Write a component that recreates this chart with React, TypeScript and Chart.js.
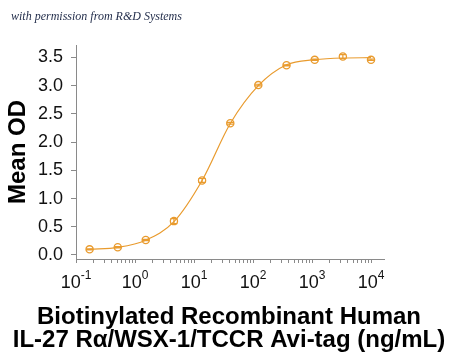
import React, { useEffect, useRef } from "react";
import { Chart, registerables } from "chart.js";
Chart.register(...registerables);

// Data
const concentrations = [0.17, 0.51, 1.52, 4.57, 13.7, 41.2, 123, 370, 1111, 3333, 10000];
const meanOD = [0.10, 0.137, 0.266, 0.60, 1.32, 2.335, 3.01, 3.36, 3.457, 3.516, 3.457];
const errorOD = [0.01, 0.01, 0.012, 0.045, 0.035, 0.015, 0.015, 0.01, 0.012, 0.035, 0.012];
const fitOD = [0.10, 0.135, 0.262, 0.59, 1.32, 2.33, 3.0, 3.37, 3.46, 3.49, 3.495];
const xExponents = [-1, 0, 1, 2, 3, 4];
const xMinorMultipliers = [2, 3, 4, 5, 6, 7, 8, 9];
const yTickValues = [0, 0.5, 1.0, 1.5, 2.0, 2.5, 3.0, 3.5];
const xTitle = ["Biotinylated Recombinant Human", "IL-27 R\u03b1/WSX-1/TCCR Avi-tag (ng/mL)"];
const yTitle = "Mean OD";
const credit = "with permission from R&D Systems";

const ORANGE = "#E99B2E";
const AXIS = "#8a8a8a";
const FONT = "'Liberation Sans', Arial, sans-serif";

export default function App() {
  const ref = useRef<HTMLCanvasElement>(null);
  useEffect(() => {
    document.body.style.margin = "0";
    const canvas = ref.current!;
    const errorBars = {
      id: "errorBars",
      afterDatasetsDraw(chart: any) {
        const { ctx } = chart;
        const xs = chart.scales.x;
        const ys = chart.scales.y;
        ctx.save();
        ctx.strokeStyle = ORANGE;
        ctx.lineWidth = 1.2;
        concentrations.forEach((c, i) => {
          const x = xs.getPixelForValue(c);
          const y1 = ys.getPixelForValue(meanOD[i] + errorOD[i]);
          const y2 = ys.getPixelForValue(meanOD[i] - errorOD[i]);
          ctx.beginPath();
          ctx.moveTo(x, y1);
          ctx.lineTo(x, y2);
          ctx.moveTo(x - 3.5, y1);
          ctx.lineTo(x + 3.5, y1);
          ctx.moveTo(x - 3.5, y2);
          ctx.lineTo(x + 3.5, y2);
          ctx.stroke();
        });
        ctx.restore();
      },
    };
    const labelsPlugin = {
      id: "labelsPlugin",
      afterDraw(chart: any) {
        const { ctx } = chart;
        const xs = chart.scales.x;
        ctx.save();
        ctx.fillStyle = "#111";
        ctx.textBaseline = "alphabetic";
        ctx.textAlign = "left";
        xExponents.forEach((e) => {
          const cx = xs.getPixelForValue(Math.pow(10, e));
          const base = "10";
          const sup = String(e);
          ctx.font = `18px ${FONT}`;
          const wb = ctx.measureText(base).width;
          ctx.font = `12px ${FONT}`;
          const ws = ctx.measureText(sup).width;
          const x0 = cx - (wb + ws) / 2;
          ctx.font = `18px ${FONT}`;
          ctx.fillText(base, x0, 288);
          ctx.font = `12px ${FONT}`;
          ctx.fillText(sup, x0 + wb, 279);
        });
        // x-axis title (two lines, not squeezed to the axis width)
        ctx.fillStyle = "#000";
        ctx.font = `bold 24px ${FONT}`;
        ctx.textAlign = "center";
        ctx.textBaseline = "middle";
        xTitle.forEach((line, i) => {
          ctx.fillText(line, 229, 317 + i * 23);
        });
        ctx.restore();
      },
    };
    const chart = new Chart(canvas, {
      type: "line",
      data: {
        datasets: [
          {
            label: "fit",
            data: concentrations.map((c, i) => ({ x: c, y: fitOD[i] })),
            borderColor: ORANGE,
            borderWidth: 1.2,
            pointRadius: 0,
            cubicInterpolationMode: "monotone",
            fill: false,
          },
          {
            label: "Mean OD",
            data: concentrations.map((c, i) => ({ x: c, y: meanOD[i] })),
            showLine: false,
            borderColor: ORANGE,
            backgroundColor: "rgba(255,255,255,0)",
            pointRadius: 3.6,
            pointBorderWidth: 1.3,
            pointStyle: "circle",
          },
        ],
      },
      options: {
        animation: false,
        responsive: false,
        layout: { padding: { top: 45, right: 66, left: 0, bottom: 0 } },
        plugins: { legend: { display: false }, tooltip: { enabled: false } },
        scales: {
          x: {
            type: "logarithmic",
            min: 0.1,
            max: 16600,
            afterFit(scale: any) {
              scale.height = 99;
            },
            afterBuildTicks(scale: any) {
              const t: any[] = [];
              xExponents.forEach((e) => {
                t.push({ value: Math.pow(10, e), major: true });
                if (e < xExponents[xExponents.length - 1]) {
                  xMinorMultipliers.forEach((m) => t.push({ value: m * Math.pow(10, e), major: false }));
                }
              });
              scale.ticks = t;
            },
            ticks: { callback: () => "", autoSkip: false, maxRotation: 0, padding: 0 },
            grid: { drawOnChartArea: false, drawTicks: true, tickLength: 4, color: AXIS, tickColor: AXIS },
            border: { display: true, color: AXIS, width: 1 },
            title: { display: false },
          },
          y: {
            min: -0.071,
            max: 3.72,
            afterFit(scale: any) {
              scale.width = 76;
            },
            afterBuildTicks(scale: any) {
              scale.ticks = yTickValues.map((v) => ({ value: v }));
            },
            ticks: {
              callback: (v: any) => Number(v).toFixed(1),
              color: "#111",
              font: { family: FONT, size: 18 },
              padding: 8,
            },
            grid: { drawOnChartArea: false, drawTicks: true, tickLength: 5, color: AXIS, tickColor: AXIS },
            border: { display: true, color: AXIS, width: 1 },
            title: {
              display: true,
              text: yTitle,
              color: "#000",
              font: { family: FONT, size: 24, weight: "bold", lineHeight: 1 },
              padding: { top: 6, bottom: 0 },
            },
          },
        },
      },
      plugins: [errorBars, labelsPlugin],
    } as any);
    return () => chart.destroy();
  }, []);
  return (
    <div style={{ position: "relative", width: 450, height: 358, background: "#fff" }}>
      <div
        style={{
          position: "absolute",
          left: 11,
          top: 9,
          fontFamily: "'Liberation Serif', serif",
          fontStyle: "italic",
          fontSize: 12,
          color: "#1f2a48",
          whiteSpace: "nowrap",
        }}
      >
        {credit}
      </div>
      <canvas ref={ref} width={450} height={358} />
    </div>
  );
}
